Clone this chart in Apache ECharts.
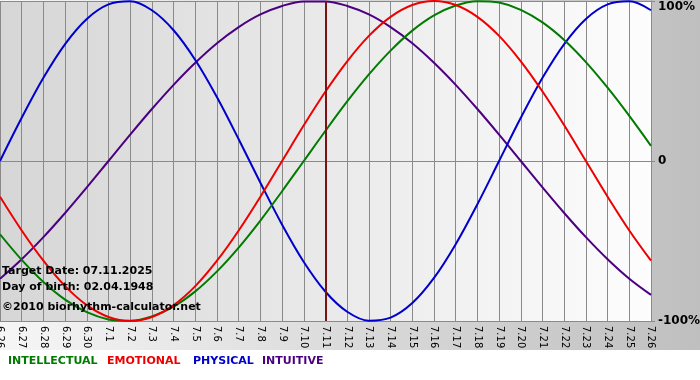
<!DOCTYPE html>
<html>
<head>
<meta charset="utf-8">
<script src="https://cdn.jsdelivr.net/npm/echarts@6/dist/echarts.min.js"></script>
<style>
  html, body { margin: 0; padding: 0; }
  #chart {
    width: 700px; height: 380px;
    background: linear-gradient(to bottom, transparent 350px, #ffffff 350px),
                linear-gradient(to right, #f6f6f6, #bfbfbf);
  }
</style>
</head>
<body>
<div id="chart"></div>
<script>
// days shown on the x axis (month.day)
var days = ['6.26','6.27','6.28','6.29','6.30',
    '7.1','7.2','7.3','7.4','7.5','7.6','7.7','7.8','7.9','7.10',
    '7.11','7.12','7.13','7.14','7.15','7.16','7.17','7.18','7.19','7.20',
    '7.21','7.22','7.23','7.24','7.25','7.26'];
var targetDay = '7.11';

// cycle values in percent, one per day
var intellectual = [-45.8,-61.8,-75.6,-86.6,-94.5,-99.0,-99.9,-97.2,-91.0,-81.5,-69.0,-54.1,-37.2,-18.9,0,
    18.9,37.2,54.1,69.0,81.5,91.0,97.2,99.9,99.0,94.5,86.6,75.6,61.8,45.8,28.2,9.5];
var emotional = [-22.3,-43.4,-62.3,-78.2,-90.1,-97.5,-100,-97.5,-90.1,-78.2,-62.3,-43.4,-22.3,0,22.3,
    43.4,62.3,78.2,90.1,97.5,100,97.5,90.1,78.2,62.3,43.4,22.3,0,-22.3,-43.4,-62.3];
var physical = [0,27.0,52.0,73.1,88.8,97.9,99.8,94.2,81.7,63.1,39.8,13.6,-13.6,-39.8,-63.1,
    -81.7,-94.2,-99.8,-97.9,-88.8,-73.1,-52.0,-27.0,0,27.0,52.0,73.1,88.8,97.9,99.8,94.2];
var intuitive = [-73.6,-61.4,-47.6,-32.5,-16.5,0,16.5,32.5,47.6,61.4,73.6,83.7,91.6,96.9,99.7,
    99.7,96.9,91.6,83.7,73.6,61.4,47.6,32.5,16.5,0,-16.5,-32.5,-47.6,-61.4,-73.6,-83.7];

var yTicks = {'100': '{top|100%}', '0': '0', '-100': '-100%'};

var chart = echarts.init(document.getElementById('chart'));

function cycle(name, data, color) {
    return {
        name: name,
        type: 'line',
        data: data,
        smooth: 0.34,
        showSymbol: false,
        animation: false,
        lineStyle: { color: color, width: 2 },
        itemStyle: { color: color }
    };
}

var series = [
    cycle('INTUITIVE', intuitive, '#4b0082'),
    cycle('PHYSICAL', physical, '#0000cc'),
    cycle('INTELLECTUAL', intellectual, '#007a00'),
    cycle('EMOTIONAL', emotional, '#ee0000')
];
series[3].markLine = {
    symbol: 'none',
    silent: true,
    animation: false,
    label: { show: false },
    lineStyle: { color: '#7a1414', width: 2, type: 'solid' },
    data: [{ xAxis: targetDay }]
};

var option = {
    backgroundColor: 'transparent',
    animation: false,
    grid: {
        left: 0, top: 1, right: 49, bottom: 59,
        outerBoundsMode: 'none',
        containLabel: false,
        show: true,
        borderWidth: 0,
        backgroundColor: new echarts.graphic.LinearGradient(0, 0, 1, 0, [
            { offset: 0, color: '#d6d6d6' },
            { offset: 1, color: '#fdfdfd' }
        ])
    },
    xAxis: {
        type: 'category',
        data: days,
        boundaryGap: false,
        axisLine: { show: true, lineStyle: { color: '#8a8a8a', width: 1 } },
        axisTick: { show: true, length: 4, lineStyle: { color: '#8a8a8a' } },
        splitLine: { show: true, lineStyle: { color: '#8a8a8a', width: 1 } },
        axisLabel: {
            rotate: -90,
            interval: 0,
            margin: 5,
            color: '#000',
            fontFamily: 'DejaVu Sans',
            fontSize: 10
        }
    },
    yAxis: {
        type: 'value',
        position: 'right',
        min: -100, max: 100, interval: 100,
        axisLine: { show: true, lineStyle: { color: '#8a8a8a' } },
        axisTick: { show: true, length: 4, lineStyle: { color: '#8a8a8a' } },
        splitLine: { show: true, lineStyle: { color: '#8a8a8a', width: 1 } },
        axisLabel: {
            margin: 7,
            color: '#000',
            fontFamily: 'DejaVu Sans',
            fontWeight: 'bold',
            fontSize: 12,
            formatter: function (v) { return yTicks[String(v)]; },
            rich: {
                top: {
                    padding: [11, 0, 0, 0],
                    color: '#000',
                    fontFamily: 'DejaVu Sans',
                    fontWeight: 'bold',
                    fontSize: 12
                }
            }
        }
    },
    series: series,
    graphic: [
        { type: 'text', left: 2, top: 266, z: 100,
          style: { text: 'Target Date: 07.11.2025', fill: '#000', font: 'bold 11px "DejaVu Sans"' } },
        { type: 'text', left: 2, top: 282, z: 100,
          style: { text: 'Day of birth: 02.04.1948', fill: '#000', font: 'bold 11px "DejaVu Sans"' } },
        { type: 'text', left: 2, top: 302, z: 100,
          style: { text: '\u00a92010 biorhythm-calculator.net', fill: '#000', font: 'bold 11px "DejaVu Sans"' } },
        { type: 'text', left: 8, top: 356,
          style: { text: 'INTELLECTUAL', fill: '#007a00', font: 'bold 11px "DejaVu Sans"' } },
        { type: 'text', left: 107, top: 356,
          style: { text: 'EMOTIONAL', fill: '#ee0000', font: 'bold 11px "DejaVu Sans"' } },
        { type: 'text', left: 193, top: 356,
          style: { text: 'PHYSICAL', fill: '#0000cc', font: 'bold 11px "DejaVu Sans"' } },
        { type: 'text', left: 262, top: 356,
          style: { text: 'INTUITIVE', fill: '#4b0082', font: 'bold 11px "DejaVu Sans"' } }
    ]
};

chart.setOption(option);
</script>
</body>
</html>
